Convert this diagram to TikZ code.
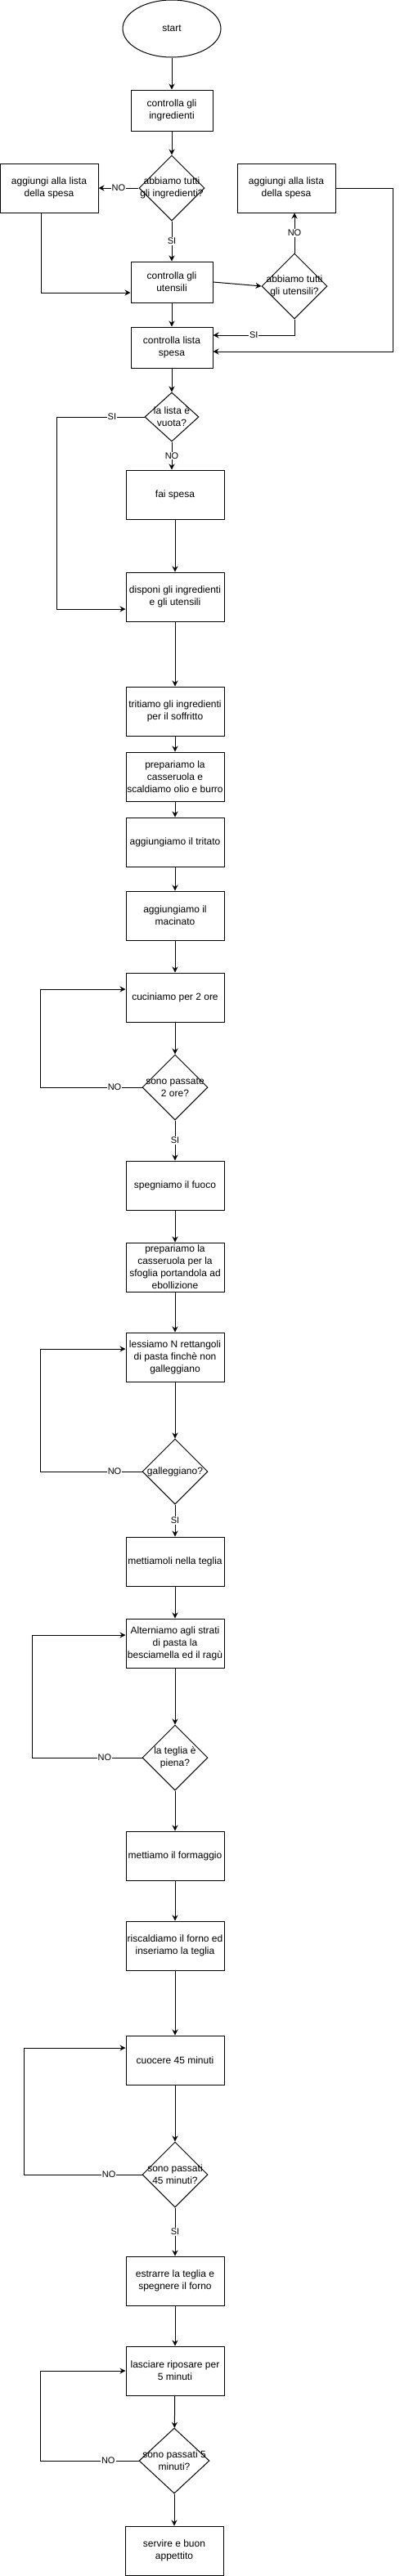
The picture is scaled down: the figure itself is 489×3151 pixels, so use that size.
\documentclass[tikz,border=0pt]{standalone}
\usepackage{fontspec}
\setmainfont{Liberation Sans}
\usetikzlibrary{arrows.meta,shapes.geometric}

\tikzset{
  stepbox/.style={draw,rectangle,line width=1pt,minimum width=120pt,minimum height=60pt,
    inner sep=0.5pt,align=center,font=\fontsize{12}{15}\selectfont},
  smallbox/.style={stepbox,minimum width=100pt,minimum height=50pt},
  decision/.style={draw,diamond,line width=1pt,minimum width=80pt,minimum height=80pt,
    inner sep=0pt,align=center,font=\fontsize{12}{15}\selectfont},
  startnode/.style={draw,ellipse,line width=1pt,minimum width=120pt,minimum height=70pt,
    font=\fontsize{12}{15}\selectfont},
  flow/.style={line width=1pt,-{Stealth[length=7pt,width=7pt]}},
  lbl/.style={fill=white,inner sep=1pt,font=\fontsize{11}{13}\selectfont}
}
\newcommand{\dl}[1]{\makebox[0pt]{#1}}

\begin{document}
\begin{tikzpicture}[x=1pt,y=-1pt]
          \useasboundingbox (0,0) rectangle (489,3151);
          % nodes
          \node[startnode] (start) at (210,35) {start};
          \node[smallbox] (ingr) at (210,135) {controlla gli\\ingredienti};
          \node[decision] (dingr) at (210,230) {\dl{abbiamo tutti}\\\dl{gli ingredienti?}};
          \node[stepbox] (addA) at (60,230) {aggiungi alla lista\\della spesa};
          \node[smallbox] (utens) at (210,345) {controlla gli\\utensili};
          \node[decision] (dutens) at (360,350) {\dl{abbiamo tutti}\\\dl{gli utensili?}};
          \node[stepbox] (addB) at (350,230) {aggiungi alla lista\\della spesa};
          \node[smallbox] (lista) at (210,425) {controlla lista\\spesa};
          \node[decision,minimum width=66pt,minimum height=60pt] (dlista) at (210,510) {\dl{la lista è}\\\dl{vuota?}};
          \node[stepbox] (spesa) at (214,605) {fai spesa};
          \node[stepbox] (disponi) at (214,730) {disponi gli ingredienti\\e gli utensili};
          \node[stepbox] (trita) at (214,870) {tritiamo gli ingredienti\\per il soffritto};
          \node[stepbox] (casser) at (214,950) {prepariamo la\\casseruola e\\scaldiamo olio e burro};
          \node[stepbox] (tritato) at (214,1030) {aggiungiamo il tritato};
          \node[stepbox] (macin) at (214,1120) {aggiungiamo il\\macinato};
          \node[stepbox] (cucina) at (214,1220) {cuciniamo per 2 ore};
          \node[decision] (dore) at (214,1330) {\dl{sono passate}\\\dl{2 ore?}};
          \node[stepbox] (fuoco) at (214,1450) {spegniamo il fuoco};
          \node[stepbox] (sfoglia) at (214,1550) {prepariamo la\\casseruola per la\\sfoglia portandola ad\\ebollizione};
          \node[stepbox] (lessa) at (214,1660) {lessiamo N rettangoli\\di pasta finchè non\\galleggiano};
          \node[decision] (dgall) at (214,1800) {\dl{galleggiano?}};
          \node[stepbox] (teglia) at (214,1910) {mettiamoli nella teglia};
          \node[stepbox] (strati) at (214,2010) {Alterniamo agli strati\\di pasta la\\besciamella ed il ragù};
          \node[decision] (dpiena) at (214,2150) {\dl{la teglia è}\\\dl{piena?}};
          \node[stepbox] (formag) at (214,2270) {mettiamo il formaggio};
          \node[stepbox] (forno) at (214,2380) {riscaldiamo il forno ed\\inseriamo la teglia};
          \node[stepbox] (cuoce) at (214,2520) {cuocere 45 minuti};
          \node[decision] (dmin) at (214,2660) {\dl{sono passati}\\\dl{45 minuti?}};
          \node[stepbox] (estrai) at (214,2790) {estrarre la teglia e\\spegnere il forno};
          \node[stepbox] (riposo) at (214,2900) {lasciare riposare per\\5 minuti};
          \node[decision,minimum width=86pt] (dcinque) at (213,3010) {\dl{sono passati 5}\\\dl{minuti?}};
          \node[stepbox] (servi) at (213,3120) {servire e buon\\appettito};
          % edges
          \draw[flow] (start) -- (ingr);
          \draw[flow] (ingr) -- (dingr);
          \draw[flow] (dingr) -- node[lbl]{NO} (addA);
          \draw[flow] (dingr) -- node[lbl]{SI} (utens);
          \draw[flow] ([xshift=-10pt]addA.south) |- ([yshift=-13pt]utens.west);
          \draw[flow] (utens.east) -- (dutens.west);
          \draw[flow] (dutens.north) -- node[lbl]{NO} (dutens.north |- addB.south);
          \draw[flow] (addB.east) -- ++(70,0) |- ([yshift=-5pt]lista.east);
          \draw[flow] (dutens.south) |- node[lbl,pos=.75]{SI} ([yshift=15pt]lista.east);
          \draw[flow] (utens) -- (lista);
          \draw[flow] (lista) -- (dlista);
          \draw[flow] (dlista.west) -- node[lbl,pos=.37]{SI} ++(-107,0) |- ([yshift=-15pt]disponi.west);
          \draw[flow] (dlista.south) -- node[lbl]{NO} (dlista.south |- spesa.north);
          \draw[flow] (spesa) -- (disponi);
          \draw[flow] (disponi) -- (trita);
          \draw[flow] (trita) -- (casser);
          \draw[flow] (casser) -- (tritato);
          \draw[flow] (tritato) -- (macin);
          \draw[flow] (macin) -- (cucina);
          \draw[flow] (cucina) -- (dore);
          \draw[flow] (dore.west) -- node[lbl,pos=.27]{NO} ++(-124,0) |- ([yshift=10pt]cucina.west);
          \draw[flow] (dore) -- node[lbl]{SI} (fuoco);
          \draw[flow] (fuoco) -- (sfoglia);
          \draw[flow] (sfoglia) -- (lessa);
          \draw[flow] (lessa) -- (dgall);
          \draw[flow] (dgall.west) -- node[lbl,pos=.27]{NO} ++(-124,0) |- ([yshift=10pt]lessa.west);
          \draw[flow] (dgall) -- node[lbl]{SI} (teglia);
          \draw[flow] (teglia) -- (strati);
          \draw[flow] (strati) -- (dpiena);
          \draw[flow] (dpiena.west) -- node[lbl,pos=.34]{NO} ++(-134,0) |- ([yshift=10pt]strati.west);
          \draw[flow] (dpiena) -- (formag);
          \draw[flow] (formag) -- (forno);
          \draw[flow] (forno) -- (cuoce);
          \draw[flow] (cuoce) -- (dmin);
          \draw[flow] (dmin.west) -- node[lbl,pos=.28]{NO} ++(-144,0) |- ([yshift=15pt]cuoce.west);
          \draw[flow] (dmin) -- node[lbl]{SI} (estrai);
          \draw[flow] (estrai) -- (riposo);
          \draw[flow] (riposo) -- (dcinque);
          \draw[flow] (dcinque.west) -- node[lbl,pos=.31]{NO} ++(-120,0) |- (riposo.west);
          \draw[flow] (dcinque) -- (servi);
        \end{tikzpicture}
\end{document}
